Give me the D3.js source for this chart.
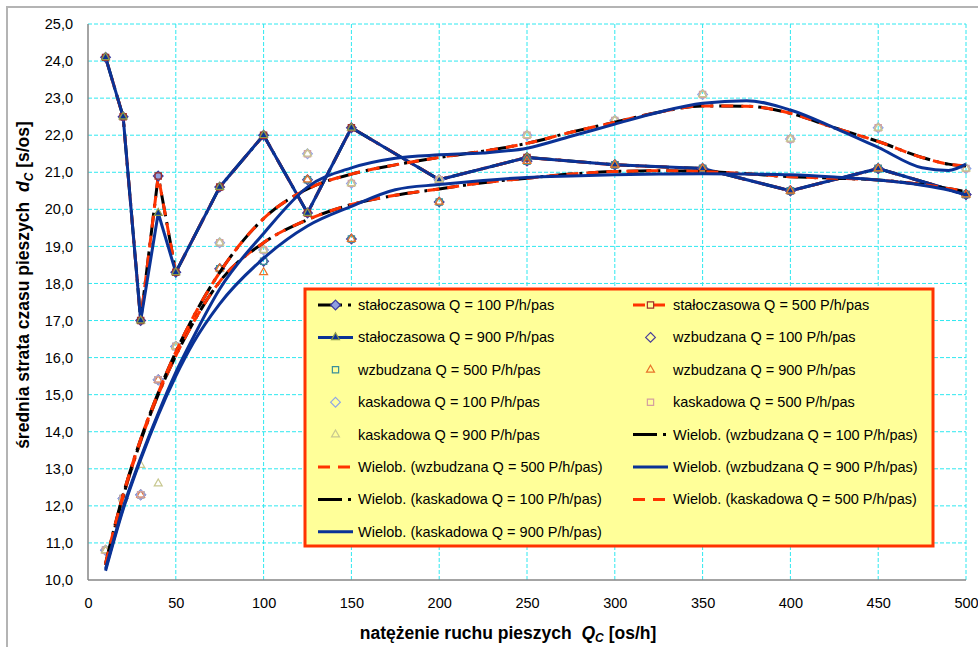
<!DOCTYPE html>
<html>
<head>
<meta charset="utf-8">
<script src="https://cdn.jsdelivr.net/npm/d3@7"></script>
<style>
body { margin: 0; background: #fff; }
text { font-family: Arial, "Liberation Sans", sans-serif; }
</style>
</head>
<body>
<div id="chart-area"></div>
<script>
// pedestrian flow Q_C [os/h]
var qValues = [10, 20, 30, 40, 50, 75, 100, 125, 150, 200, 250, 300, 350, 400, 450, 500];

// fixed-time signals
var stalo100 = [24.1, 22.5, 17.0, 20.9, 18.3, 20.6, 22.0, 19.9, 22.2, 20.8, 21.4, 21.2, 21.1, 20.5, 21.1, 20.4];
var stalo500 = [24.1, 22.5, 17.0, 20.9, 18.3, 20.6, 22.0, 19.9, 22.2, 20.8, 21.4, 21.2, 21.1, 20.5, 21.1, 20.4];
var stalo900 = [24.1, 22.5, 17.0, 19.9, 18.3, 20.6, 22.0, 19.9, 22.2, 20.8, 21.4, 21.2, 21.1, 20.5, 21.1, 20.4];

// actuated
var wzb100 = [10.8, 12.2, 12.3, 15.4, 16.3, 18.4, 18.6, 20.8, 19.2, 20.2, 21.3, 21.2, 21.1, 20.5, 21.1, 20.4];
var wzb500 = [10.8, 12.2, 12.3, 15.4, 16.3, 18.4, 18.6, 20.8, 19.2, 20.2, 21.3, 21.2, 21.1, 20.5, 21.1, 20.4];
var wzb900 = [10.8, 12.2, 12.3, 15.4, 16.3, 18.4, 18.3, 20.8, 19.2, 20.2, 21.3, 21.2, 21.1, 20.5, 21.1, 20.4];

// cascade
var kask100 = [10.8, 12.2, 12.3, 15.4, 16.3, 19.1, 18.9, 21.5, 20.7, 20.8, 22.0, 22.4, 23.1, 21.9, 22.2, 21.1];
var kask500 = [10.8, 12.2, 12.3, 15.4, 16.3, 19.1, 18.9, 21.5, 20.7, 20.8, 22.0, 22.4, 23.1, 21.9, 22.2, 21.1];
var kask900 = [10.8, 12.2, 13.1, 12.6, 16.3, 19.1, 18.9, 21.5, 20.7, 20.8, 22.0, 22.4, 23.1, 21.9, 22.2, 21.1];

// polynomial trendlines
var trendX = [10, 20, 30, 40, 50, 60, 75, 100, 125, 150, 175, 200, 225, 250, 275, 300, 325, 350, 375, 400, 425, 450, 475, 490, 500];
var trendWzb100 = [10.4, 12.25, 13.75, 15.0, 16.05, 16.95, 18.05, 19.1, 19.72, 20.13, 20.38, 20.55, 20.72, 20.84, 20.95, 21.02, 21.04, 21.02, 20.96, 20.88, 20.84, 20.79, 20.67, 20.56, 20.48];
var trendWzb500 = trendWzb100.slice();
var trendWzb900 = [10.25, 11.9, 13.25, 14.45, 15.5, 16.4, 17.45, 18.68, 19.55, 20.08, 20.53, 20.67, 20.78, 20.86, 20.9, 20.93, 20.95, 20.96, 20.95, 20.93, 20.87, 20.79, 20.65, 20.52, 20.39];
var trendKask100 = [10.45, 12.3, 13.8, 15.05, 16.15, 17.1, 18.3, 19.75, 20.55, 20.95, 21.2, 21.4, 21.57, 21.78, 22.08, 22.35, 22.62, 22.79, 22.78, 22.59, 22.2, 21.83, 21.4, 21.22, 21.17];
var trendKask500 = trendKask100.slice();
var trendKask900 = [10.3, 11.95, 13.3, 14.5, 15.6, 16.55, 17.85, 19.35, 20.6, 21.12, 21.38, 21.47, 21.52, 21.65, 21.97, 22.3, 22.62, 22.86, 22.93, 22.68, 22.2, 21.67, 21.12, 21.05, 21.22];

var xTicks = [0, 50, 100, 150, 200, 250, 300, 350, 400, 450, 500];
var yTicks = [10, 11, 12, 13, 14, 15, 16, 17, 18, 19, 20, 21, 22, 23, 24, 25];

var width = 978, height = 647;
var plot = {left: 88, right: 966, top: 24, bottom: 580};

var svg = d3.select("#chart-area").append("svg").attr("width", width).attr("height", height);

svg.append("rect").attr("x", 7).attr("y", 7).attr("width", 1000).attr("height", 700)
  .attr("fill", "white").attr("stroke", "#b4b4b4").attr("stroke-width", 2);

var x = d3.scaleLinear().domain([0, 500]).range([plot.left, plot.right]);
var y = d3.scaleLinear().domain([10, 25]).range([plot.bottom, plot.top]);

// grid
var grid = svg.append("g").attr("class", "grid");
grid.selectAll(".hgrid").data(yTicks.filter(function(d) { return d > 10; })).enter().append("line")
  .attr("x1", plot.left).attr("x2", plot.right).attr("y1", function(d) { return y(d); }).attr("y2", function(d) { return y(d); })
  .attr("stroke", "#2ee8f0").attr("stroke-width", 1).attr("stroke-dasharray", "4,2");
grid.selectAll(".vgrid").data(xTicks.filter(function(d) { return d > 0; })).enter().append("line")
  .attr("y1", plot.top).attr("y2", plot.bottom).attr("x1", function(d) { return x(d); }).attr("x2", function(d) { return x(d); })
  .attr("stroke", "#2ee8f0").attr("stroke-width", 1).attr("stroke-dasharray", "4,2");

// axes
var bottomAxis = d3.axisBottom(x).tickValues(xTicks).tickSize(0).tickPadding(18);
svg.append("g").attr("transform", "translate(0," + plot.bottom + ")").call(bottomAxis)
  .call(function(g) { g.select(".domain").remove(); })
  .selectAll("text").attr("font-size", "14.5px").attr("font-family", "Arial, 'Liberation Sans', sans-serif").attr("fill", "#000");

var leftAxis = d3.axisLeft(y).tickValues(yTicks).tickSize(0).tickPadding(15)
  .tickFormat(function(d) { return d3.format(".1f")(d).replace(".", ","); });
svg.append("g").attr("transform", "translate(" + plot.left + ",0)").call(leftAxis)
  .call(function(g) { g.select(".domain").remove(); })
  .selectAll("text").attr("font-size", "14.5px").attr("font-family", "Arial, 'Liberation Sans', sans-serif").attr("fill", "#000");

svg.append("line").attr("x1", plot.left).attr("x2", plot.left).attr("y1", plot.top).attr("y2", plot.bottom)
  .attr("stroke", "#868686").attr("stroke-width", 1.5);
svg.append("line").attr("x1", plot.left).attr("x2", plot.right).attr("y1", plot.bottom).attr("y2", plot.bottom)
  .attr("stroke", "#868686").attr("stroke-width", 1.5);

// styles
var BLACK_DASH = "24,6,3,6";
var RED_DASH = "12,8";
var markerSize = {diamond: 60, square: 50, triangle: 45};
function symbolPath(type, k) {
  var t = type == "diamond" ? d3.symbolDiamond2 : (type == "square" ? d3.symbolSquare2 : d3.symbolTriangle2);
  return d3.symbol().type(t).size(markerSize[type] * (k || 1))();
}

var lineGen = d3.line().x(function(d) { return x(d[0]); }).y(function(d) { return y(d[1]); });
var curveGen = d3.line().x(function(d) { return x(d[0]); }).y(function(d) { return y(d[1]); }).curve(d3.curveMonotoneX);
function pairs(xs, ys) { return xs.map(function(v, i) { return [v, ys[i]]; }); }

var staloSeries = [
  {vals: stalo100, color: "#000000", dash: BLACK_DASH, marker: "diamond", mStroke: "#3a3aa0", mFill: "#8fa0e0"},
  {vals: stalo500, color: "#ff3300", dash: RED_DASH, marker: "square", mStroke: "#a0302a", mFill: "none"},
  {vals: stalo900, color: "#0a3296", dash: null, marker: "triangle", mStroke: "#8c9a4a", mFill: "#0a3296"}
];
var scatterSeries = [
  {vals: wzb100, marker: "diamond", color: "#4b3f9a"},
  {vals: wzb500, marker: "square", color: "#3a8f9a"},
  {vals: wzb900, marker: "triangle", color: "#e8742a"},
  {vals: kask100, marker: "diamond", color: "#8fa6e6"},
  {vals: kask500, marker: "square", color: "#d4a0a0"},
  {vals: kask900, marker: "triangle", color: "#c8c890"}
];
var trendSeries = [
  {vals: trendWzb100, color: "#000000", dash: BLACK_DASH},
  {vals: trendWzb500, color: "#ff3300", dash: RED_DASH},
  {vals: trendWzb900, color: "#0a3296", dash: null},
  {vals: trendKask100, color: "#000000", dash: BLACK_DASH},
  {vals: trendKask500, color: "#ff3300", dash: RED_DASH},
  {vals: trendKask900, color: "#0a3296", dash: null}
];

// fixed-time lines
staloSeries.forEach(function(s) {
  svg.append("path").attr("d", lineGen(pairs(qValues, s.vals))).attr("fill", "none")
    .attr("stroke", s.color).attr("stroke-width", 3).attr("stroke-dasharray", s.dash)
    .attr("stroke-linejoin", "round");
});
staloSeries.forEach(function(s) {
  svg.append("g").selectAll("path").data(pairs(qValues, s.vals)).enter().append("path")
    .attr("transform", function(d) { return "translate(" + x(d[0]) + "," + y(d[1]) + ")"; })
    .attr("d", symbolPath(s.marker)).attr("fill", s.mFill).attr("stroke", s.mStroke).attr("stroke-width", 1.2);
});

// scatter points
scatterSeries.forEach(function(s) {
  svg.append("g").selectAll("path").data(pairs(qValues, s.vals)).enter().append("path")
    .attr("transform", function(d) { return "translate(" + x(d[0]) + "," + y(d[1]) + ")"; })
    .attr("d", symbolPath(s.marker)).attr("fill", "none").attr("stroke", s.color).attr("stroke-width", 1.2);
});

// trendlines
trendSeries.forEach(function(s) {
  svg.append("path").attr("d", curveGen(pairs(trendX, s.vals))).attr("fill", "none")
    .attr("stroke", s.color).attr("stroke-width", 3).attr("stroke-dasharray", s.dash);
});

// legend
var legendItems = [
  {label: "stałoczasowa Q = 100 P/h/pas", line: staloSeries[0], marker: staloSeries[0]},
  {label: "stałoczasowa Q = 500 P/h/pas", line: staloSeries[1], marker: staloSeries[1]},
  {label: "stałoczasowa Q = 900 P/h/pas", line: staloSeries[2], marker: staloSeries[2]},
  {label: "wzbudzana Q = 100 P/h/pas", scatter: scatterSeries[0]},
  {label: "wzbudzana Q = 500 P/h/pas", scatter: scatterSeries[1]},
  {label: "wzbudzana Q = 900 P/h/pas", scatter: scatterSeries[2]},
  {label: "kaskadowa Q = 100 P/h/pas", scatter: scatterSeries[3]},
  {label: "kaskadowa Q = 500 P/h/pas", scatter: scatterSeries[4]},
  {label: "kaskadowa Q = 900 P/h/pas", scatter: scatterSeries[5]},
  {label: "Wielob. (wzbudzana Q = 100 P/h/pas)", line: trendSeries[0]},
  {label: "Wielob. (wzbudzana Q = 500 P/h/pas)", line: trendSeries[1]},
  {label: "Wielob. (wzbudzana Q = 900 P/h/pas)", line: trendSeries[2]},
  {label: "Wielob. (kaskadowa Q = 100 P/h/pas)", line: trendSeries[3]},
  {label: "Wielob. (kaskadowa Q = 500 P/h/pas)", line: trendSeries[4]},
  {label: "Wielob. (kaskadowa Q = 900 P/h/pas)", line: trendSeries[5]}
];

var legend = svg.append("g").attr("class", "legend");
legend.append("rect").attr("x", 305).attr("y", 289).attr("width", 628).attr("height", 257)
  .attr("fill", "#ffff99").attr("stroke", "#ff3300").attr("stroke-width", 3);

var colX = [318, 633];
var rowY0 = 305, rowStep = 32.4;
legendItems.forEach(function(item, i) {
  var cx = colX[i % 2], cy = rowY0 + Math.floor(i / 2) * rowStep;
  var g = legend.append("g").attr("transform", "translate(" + cx + "," + cy + ")");
  if (item.line) {
    g.append("line").attr("x1", 0).attr("x2", 35).attr("y1", 0).attr("y2", 0)
      .attr("stroke", item.line.color).attr("stroke-width", 3).attr("stroke-dasharray", item.line.dash);
  }
  if (item.marker) {
    g.append("path").attr("transform", "translate(17.5,0)").attr("d", symbolPath(item.marker.marker))
      .attr("fill", item.marker.mFill == "none" ? "#ffff99" : item.marker.mFill).attr("stroke", item.marker.mStroke).attr("stroke-width", 1.2);
  }
  if (item.scatter) {
    g.append("path").attr("transform", "translate(17.5,0)").attr("d", symbolPath(item.scatter.marker))
      .attr("fill", "none").attr("stroke", item.scatter.color).attr("stroke-width", 1.2);
  }
  g.append("text").attr("x", 40).attr("y", 0).attr("dy", "0.35em").attr("font-size", "14.5px").attr("fill", "#000").text(item.label);
});

// axis titles
var xTitle = svg.append("text").attr("x", 508).attr("y", 639).attr("text-anchor", "middle")
  .attr("font-size", "17.5px").attr("font-weight", "bold").attr("fill", "#000");
xTitle.append("tspan").text("natężenie ruchu pieszych\u00a0\u00a0");
xTitle.append("tspan").attr("font-style", "italic").text("Q");
xTitle.append("tspan").attr("font-style", "italic").attr("font-size", "12px").attr("dy", 3).text("C");
xTitle.append("tspan").attr("dy", -3).text("\u00a0[os/h]");

var yTitle = svg.append("text").attr("transform", "translate(29,285) rotate(-90)").attr("text-anchor", "middle")
  .attr("font-size", "17.5px").attr("font-weight", "bold").attr("fill", "#000");
yTitle.append("tspan").text("średnia strata czasu pieszych\u00a0\u00a0");
yTitle.append("tspan").attr("font-style", "italic").text("d");
yTitle.append("tspan").attr("font-style", "italic").attr("font-size", "12px").attr("dy", 4).text("C");
yTitle.append("tspan").attr("dy", -4).text("\u00a0[s/os]");
</script>
</body>
</html>
